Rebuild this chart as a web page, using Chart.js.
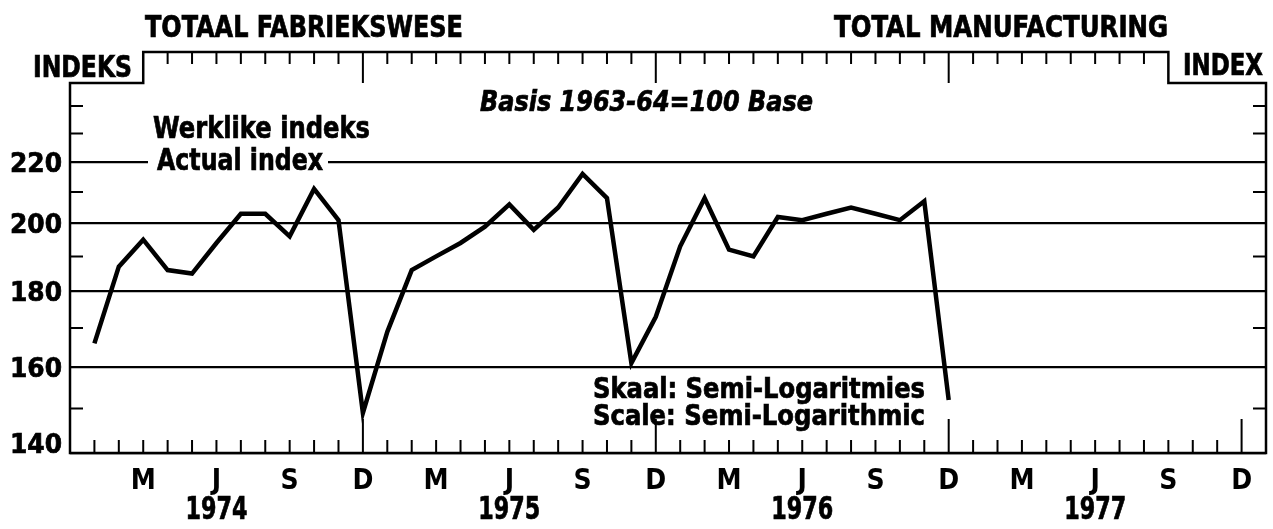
<!DOCTYPE html>
<html>
<head>
<meta charset="utf-8">
<script src="https://cdn.jsdelivr.net/npm/chart.js@4.4.1/dist/chart.umd.min.js"></script>
<style>
  body { margin: 0; background: #fff; }
  #wrap { width: 1273px; height: 529px; position: relative; }
</style>
</head>
<body>
<div id="wrap"><canvas id="indexChart"></canvas></div>
<script>
// month letters and years on the time axis
const monthLetters = ['J', 'F', 'M', 'A', 'M', 'J', 'J', 'A', 'S', 'O', 'N', 'D'];
const years = ['1974', '1975', '1976', '1977'];

// actual index, 1963-64 = 100
const index1974 = [166, 187, 195, 186, 185, 194, 203, 203, 196, 211, 201, 149];
const index1975 = [169, 186, 190, 194, 199, 206, 198, 205, 216, 208, 161, 173];
const index1976 = [193, 208, 192, 190, 202, 201, 203, 205, 203, 201, 207, 152];

const yTicks = [140, 160, 180, 200, 220];
const yMinorTicks = [150, 170, 190, 210, 230, 240];

const FONT = "'DejaVu Sans Condensed', 'Liberation Sans Narrow', 'DejaVu Sans', sans-serif";
Chart.defaults.font.family = FONT;

// Dec 1973 ... Dec 1977, Jan 1978
const labels = ['D'].concat(years.flatMap(() => monthLetters), ['J']);
const values = [null].concat(index1974, index1975, index1976);

// draw text squeezed/stretched to a given width, a little heavier than bold
function fitText(ctx, s, x, y, w, size, opts) {
  opts = opts || {};
  ctx.save();
  ctx.font = (opts.italic ? 'italic ' : '') + 'bold ' + size + 'px ' + FONT;
  ctx.textBaseline = 'alphabetic';
  ctx.textAlign = 'left';
  const mw = ctx.measureText(s).width;
  let left = x;
  if (opts.align === 'center') left = x - w / 2;
  if (opts.align === 'right') left = x - w;
  ctx.translate(left, y);
  ctx.scale(w / mw, 1);
  ctx.fillStyle = '#000';
  ctx.strokeStyle = '#000';
  ctx.lineWidth = 0.7;
  ctx.fillText(s, 0, 0);
  ctx.strokeText(s, 0, 0);
  ctx.restore();
}

const framePlugin = {
  id: 'frame',
  afterDraw(chart) {
    const ctx = chart.ctx;
    const a = chart.chartArea;
    const xs = chart.scales.x, ys = chart.scales.y;
    const L = a.left, R = a.right, T = a.top, B = a.bottom;
    const step = T + 31;
    const xa = xs.getPixelForValue(3), xb = xs.getPixelForValue(45);

    ctx.save();
    ctx.strokeStyle = '#000';
    ctx.lineWidth = 2.5;
    ctx.beginPath();
    ctx.moveTo(L, B);
    ctx.lineTo(L, step);
    ctx.lineTo(xa, step);
    ctx.lineTo(xa, T);
    ctx.lineTo(xb, T);
    ctx.lineTo(xb, step);
    ctx.lineTo(R, step);
    ctx.lineTo(R, B);
    ctx.closePath();
    ctx.stroke();

    ctx.lineWidth = 2;
    ctx.beginPath();
    // top ticks
    for (let i = 4; i <= 44; i++) {
      const px = xs.getPixelForValue(i);
      ctx.moveTo(px, T);
      ctx.lineTo(px, T + (i % 12 === 0 ? 31 : 12));
    }
    // bottom ticks
    for (let i = 1; i <= 48; i++) {
      const px = xs.getPixelForValue(i);
      ctx.moveTo(px, B);
      ctx.lineTo(px, B - (i % 12 === 0 ? 34 : 13));
    }
    // side ticks
    yMinorTicks.forEach(v => {
      const py = ys.getPixelForValue(v);
      ctx.moveTo(L, py); ctx.lineTo(L + 13, py);
      ctx.moveTo(R, py); ctx.lineTo(R - 13, py);
    });
    ctx.stroke();

    // y labels
    yTicks.forEach(v => {
      const py = ys.getPixelForValue(v);
      fitText(ctx, String(v), L - 8, Math.min(py + 10, B), 52, 27, { align: 'right' });
    });

    // year labels centred under June
    years.forEach((yr, k) => {
      fitText(ctx, yr, xs.getPixelForValue(6 + 12 * k), 519, 62, 32, { align: 'center' });
    });

    // titles and notes
    fitText(ctx, 'TOTAAL FABRIEKSWESE', 145, 37, 318, 30);
    fitText(ctx, 'TOTAL MANUFACTURING', 834, 37, 334, 30);
    fitText(ctx, 'INDEKS', 33, 77, 99, 30);
    fitText(ctx, 'INDEX', 1183, 75, 80, 30);
    fitText(ctx, 'Basis 1963-64=100 Base', 480, 111, 333, 29, { italic: true });
    fitText(ctx, 'Werklike indeks', 153, 138, 217, 31);
    ctx.fillStyle = '#fff';
    ctx.fillRect(148, 150, 180, 22);
    fitText(ctx, 'Actual index', 157, 170, 166, 31);
    fitText(ctx, 'Skaal: Semi-Logaritmies', 593, 398, 332, 28);
    fitText(ctx, 'Scale: Semi-Logarithmic', 593, 425, 332, 28);
    ctx.restore();
  }
};

new Chart(document.getElementById('indexChart'), {
  type: 'line',
  data: {
    labels: labels,
    datasets: [{
      label: 'Werklike indeks / Actual index',
      data: values,
      borderColor: '#000',
      borderWidth: 4.5,
      pointRadius: 0,
      tension: 0,
      fill: false
    }]
  },
  options: {
    responsive: true,
    maintainAspectRatio: false,
    animation: false,
    layout: { padding: { top: 52, right: 7, left: 0, bottom: 0 } },
    plugins: { legend: { display: false }, tooltip: { enabled: false } },
    scales: {
      x: {
        type: 'category',
        offset: false,
        grid: { display: false },
        border: { display: false },
        ticks: {
          autoSkip: false,
          maxRotation: 0,
          padding: 4,
          color: '#000',
          font: { size: 28, weight: 'bold' },
          callback: function (v, i) {
            return (i % 3 === 0 && i >= 3 && i <= 48) ? this.getLabelForValue(v) : '';
          }
        },
        afterFit(s) { s.height = 76; }
      },
      y: {
        type: 'logarithmic',
        min: 140,
        max: 261,
        ticks: { display: false },
        grid: { color: '#000', lineWidth: 2.2, drawTicks: false },
        border: { display: false },
        afterBuildTicks(s) { s.ticks = yTicks.map(v => ({ value: v })); },
        afterFit(s) { s.width = 70; }
      }
    }
  },
  plugins: [framePlugin]
});
</script>
</body>
</html>
